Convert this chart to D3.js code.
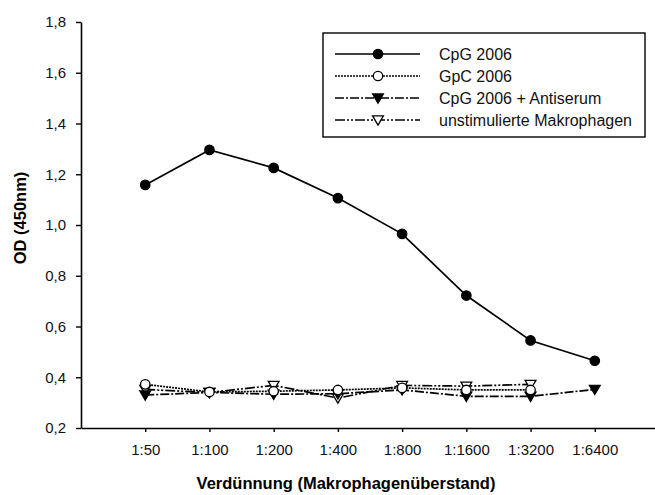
<html>
<script src='https://d3js.org/d3.v7.min.js'></script>
<style>
body {margin:0; background:white;}
text {font-family: Arial, 'Liberation Sans', sans-serif;}
</style>
<body>
<svg width=655 height=495></svg>
<script>
var dilutions = ['1:50','1:100','1:200','1:400','1:800','1:1600','1:3200','1:6400'];
var cpg       = [1.158, 1.296, 1.225, 1.106, 0.965, 0.722, 0.545, 0.465];
var gpc       = [0.372, 0.342, 0.345, 0.350, 0.358, 0.350, 0.350, null];
var antiserum = [0.330, 0.340, 0.333, 0.335, 0.350, 0.325, 0.325, 0.352];
var unstim    = [0.352, 0.340, 0.368, 0.318, 0.368, 0.365, 0.372, null];
var yTicks    = [0.2, 0.4, 0.6, 0.8, 1.0, 1.2, 1.4, 1.6, 1.8];

var series = [
  {name:'CpG 2006', values:cpg, dash:null, marker:'circle', fill:'black'},
  {name:'GpC 2006', values:gpc, dash:'2,1', marker:'circle', fill:'white'},
  {name:'CpG 2006 + Antiserum', values:antiserum, dash:'9,2,2,2', marker:'tri', fill:'black'},
  {name:'unstimulierte Makrophagen', values:unstim, dash:'10,2,2,2,2,2', marker:'tri', fill:'white'}
];

var svg = d3.select('svg');
var x = d3.scalePoint().domain(dilutions).range([81, 659]).padding(1);
var y = d3.scaleLinear().domain([0.2, 1.8]).range([428, 22]);
var comma = function(d) { return d3.format('.1f')(d).replace('.', ','); };

// axes
var ax = svg.append('g').attr('transform', 'translate(0,428)')
  .call(d3.axisBottom(x).tickSizeInner(4).tickSizeOuter(0).tickPadding(12));
var ay = svg.append('g').attr('transform', 'translate(81,0)')
  .call(d3.axisLeft(y).tickValues(yTicks).tickFormat(comma).tickSizeInner(5).tickSizeOuter(0).tickPadding(10));
[ax, ay].forEach(function(a) {
  a.attr('font-size', 15).attr('font-family', 'Arial, Liberation Sans, sans-serif');
  a.select('.domain').attr('stroke-width', 1.6);
  a.selectAll('.tick line').attr('stroke-width', 1.4);
  a.selectAll('text').attr('fill', '#111');
});

svg.append('text').attr('x', 346).attr('y', 489).attr('text-anchor', 'middle')
  .attr('font-size', 16.5).attr('font-weight', 'bold').text('Verdünnung (Makrophagenüberstand)');
svg.append('text').attr('transform', 'translate(26,218) rotate(-90)').attr('text-anchor', 'middle')
  .attr('font-size', 16.5).attr('font-weight', 'bold').text('OD (450nm)');

function marker(g, type, fill, cx, cy) {
  if (type == 'circle') {
    g.append('circle').attr('cx', cx).attr('cy', cy).attr('r', 4.7)
      .attr('fill', fill).attr('stroke', 'black').attr('stroke-width', 1.3);
  } else {
    var s = 5.4;
    g.append('path').attr('d', 'M' + (cx - s) + ',' + (cy - s * 0.75) + 'L' + (cx + s) + ',' + (cy - s * 0.75) + 'L' + cx + ',' + (cy + s * 0.95) + 'Z')
      .attr('fill', fill).attr('stroke', 'black').attr('stroke-width', 1.3);
  }
}

var line = d3.line()
  .defined(function(d) { return d != null; })
  .x(function(d, i) { return x(dilutions[i]); })
  .y(function(d) { return y(d); });

var plot = svg.append('g');
series.slice().reverse().forEach(function(s) {
  plot.append('path').attr('d', line(s.values)).attr('fill', 'none')
    .attr('stroke', 'black').attr('stroke-width', 1.7)
    .attr('stroke-dasharray', s.dash);
});
series.slice().reverse().forEach(function(s) {
  s.values.forEach(function(v, i) {
    if (v != null) marker(plot, s.marker, s.fill, x(dilutions[i]), y(v));
  });
});

// legend
var lg = svg.append('g');
lg.append('rect').attr('x', 323).attr('y', 33).attr('width', 322).attr('height', 104)
  .attr('fill', 'white').attr('stroke', 'black').attr('stroke-width', 1.4);
series.forEach(function(s, i) {
  var ly = 54 + i * 22;
  lg.append('line').attr('x1', 335).attr('x2', 420).attr('y1', ly).attr('y2', ly)
    .attr('stroke', 'black').attr('stroke-width', 1.7).attr('stroke-dasharray', s.dash);
  marker(lg, s.marker, s.fill, 378, ly);
  lg.append('text').attr('x', 439).attr('y', ly + 5.5).attr('font-size', 16).attr('fill', '#111').text(s.name);
});
</script>
</body>
</html>
